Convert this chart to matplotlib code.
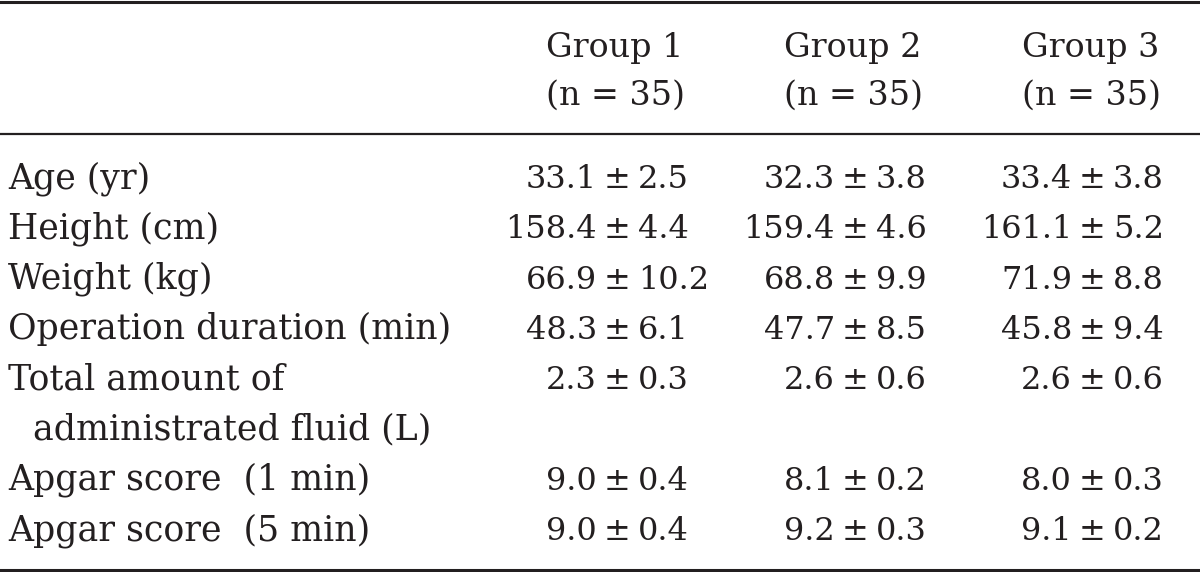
import matplotlib.pyplot as plt

# table content
row_labels = ["Age (yr)", "Height (cm)", "Weight (kg)", "Operation duration (min)",
              "Total amount of", "Apgar score  (1 min)", "Apgar score  (5 min)"]
label_wrap = {4: "administrated fluid (L)"}   # second line of a long label
group_names = ["Group 1", "Group 2", "Group 3"]
group_n = [35, 35, 35]
means = [
    [33.1, 32.3, 33.4],
    [158.4, 159.4, 161.1],
    [66.9, 68.8, 71.9],
    [48.3, 47.7, 45.8],
    [2.3, 2.6, 2.6],
    [9.0, 8.1, 8.0],
    [9.0, 9.2, 9.1],
]
sds = [
    [2.5, 3.8, 3.8],
    [4.4, 4.6, 5.2],
    [10.2, 9.9, 8.8],
    [6.1, 8.5, 9.4],
    [0.3, 0.6, 0.6],
    [0.4, 0.2, 0.3],
    [0.4, 0.3, 0.2],
]

ink = "#231f20"
font = "DejaVu Serif"
fs_text = 25
fs_head = 24
fs_num = 23

fig = plt.figure(figsize=(12, 5.72), dpi=100)
ax = fig.add_axes([0, 0, 1, 1])
ax.set_xlim(0, 1200)
ax.set_ylim(572, 0)
ax.axis("off")

# horizontal rules
ax.axhline(2, color=ink, lw=2.2)
ax.axhline(134, color=ink, lw=1.6)
ax.axhline(569.5, color=ink, lw=2.2)

# column layout (pixel units)
pm_x = [617, 855, 1092]
head_x = [615, 853, 1091]
line_step = 50.3
first_base = 188

for i, g in enumerate(group_names):
    ax.text(head_x[i], 57, g, ha="center", va="baseline",
            fontsize=fs_head, family=font, color=ink)
    ax.text(head_x[i], 105, f"(n = {group_n[i]})", ha="center", va="baseline",
            fontsize=fs_head, family=font, color=ink)

line = 0
for r, lab in enumerate(row_labels):
    y = first_base + line * line_step
    ax.text(8, y, lab, ha="left", va="baseline", fontsize=fs_text,
            family=font, color=ink)
    for c in range(3):
        ax.text(pm_x[c] - 20, y, f"{means[r][c]:.1f}", ha="right", va="baseline",
                fontsize=fs_num, family=font, color=ink)
        ax.text(pm_x[c], y, "±", ha="center", va="baseline",
                fontsize=fs_num, family=font, color=ink)
        ax.text(pm_x[c] + 21, y, f"{sds[r][c]:.1f}", ha="left", va="baseline",
                fontsize=fs_num, family=font, color=ink)
    line += 1
    if r in label_wrap:
        y = first_base + line * line_step
        ax.text(33, y, label_wrap[r], ha="left", va="baseline",
                fontsize=fs_text, family=font, color=ink)
        line += 1

fig.savefig("out.png", dpi=100)
